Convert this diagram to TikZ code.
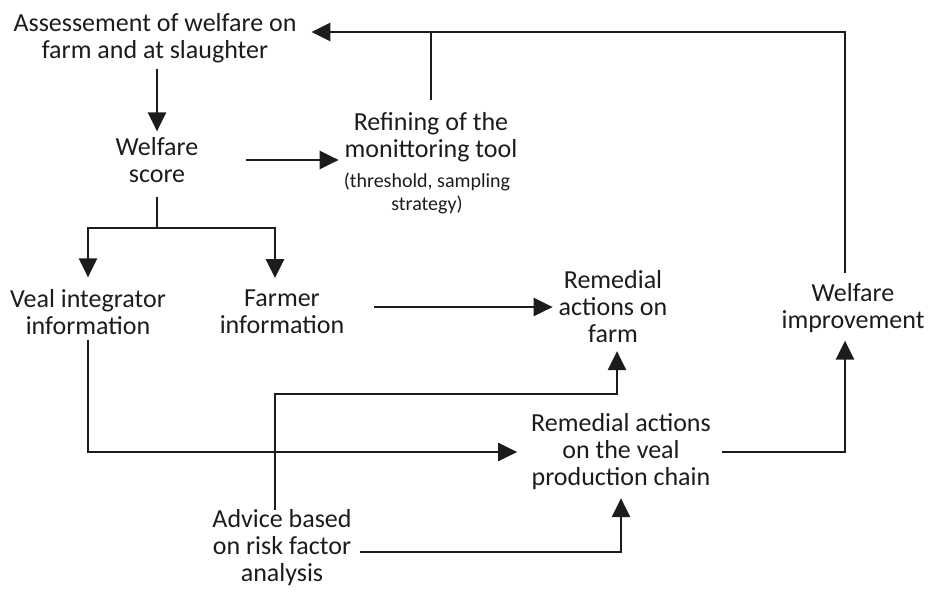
\documentclass[tikz,border=0pt]{standalone}
\usepackage{fontspec}
\setmainfont{Carlito}
\usetikzlibrary{arrows.meta,calc}
\definecolor{ink}{RGB}{30,27,28}
\begin{document}
\begin{tikzpicture}[x=1pt,y=-1pt,
  lbl/.style={align=center,inner sep=0pt,outer sep=0pt,text=ink,
              font=\fontsize{26}{27}\selectfont},
  note/.style={align=center,inner sep=0pt,outer sep=0pt,text=ink,
              font=\fontsize{20}{23}\selectfont},
  link/.style={draw=ink,line width=2.6pt},
  arr/.style={link,-{Triangle[length=19pt,width=18pt]}}]
\useasboundingbox (0,0) rectangle (929,592);

% --- text blocks ---
\node[lbl] (assess)  at (155,38)  {Assessement of welfare on\\farm and at slaughter};
\node[lbl] (score)   at (157,160) {Welfare\\score};
\node[lbl] (refine)  at (431,137) {Refining of the\\monittoring tool};
\node[note] (refnote) at (427,193) {(threshold, sampling\\strategy)};
\node[lbl] (veal)    at (88,312)  {Veal integrator\\information};
\node[lbl] (farmer)  at (282,312) {Farmer\\information};
\node[lbl] (farm)    at (613,307) {Remedial\\actions on\\farm};
\node[lbl] (improve) at (853,308) {Welfare\\improvement};
\node[lbl] (chain)   at (621,452) {Remedial actions\\on the veal\\production chain};
\node[lbl] (advice)  at (282,548) {Advice based\\on risk factor\\analysis};

% --- helper points for bends ---
\coordinate (fork) at (157,228);
\coordinate (ret)  at (845,32);
\coordinate (bend) at (275,394);

% --- connectors ---
\draw[arr,shorten <=6pt,shorten >=6pt] (assess.south -| score) -- (score.north);
\draw[arr,shorten <=48pt,shorten >=6pt] (score.east) -- (score.east -| refine.west);
\draw[link,shorten <=14pt] (score.south) -- (fork);
\draw[arr,shorten >=12pt] (fork) -| (veal.north);
\draw[arr,shorten >=12pt] (fork) -| ([xshift=-7pt]farmer.north);
\draw[arr,shorten <=30pt,shorten >=6pt] ([yshift=5pt]farmer.east) -- ([yshift=5pt]farmer.east -| farm.west);
\draw[arr,shorten <=5pt,shorten >=14pt] (veal.south) |- (chain.west);
\draw[arr,shorten >=8pt] ([xshift=-7pt]advice.north) -- (bend) -| ([xshift=4pt]farm.south);
\draw[arr,shorten <=8pt,shorten >=8pt] ([yshift=-4pt]advice.east) -| (chain.south);
\draw[arr,shorten <=11pt,shorten >=8pt] (chain.east) -| ([xshift=-8pt]improve.south);
\draw[arr,shorten <=10pt,shorten >=15pt] ([xshift=-8pt]improve.north) -- (ret) -- (assess.east |- ret);
\draw[link,shorten <=12pt] (refine.north) -- (refine.north |- ret);
\end{tikzpicture}
\end{document}
